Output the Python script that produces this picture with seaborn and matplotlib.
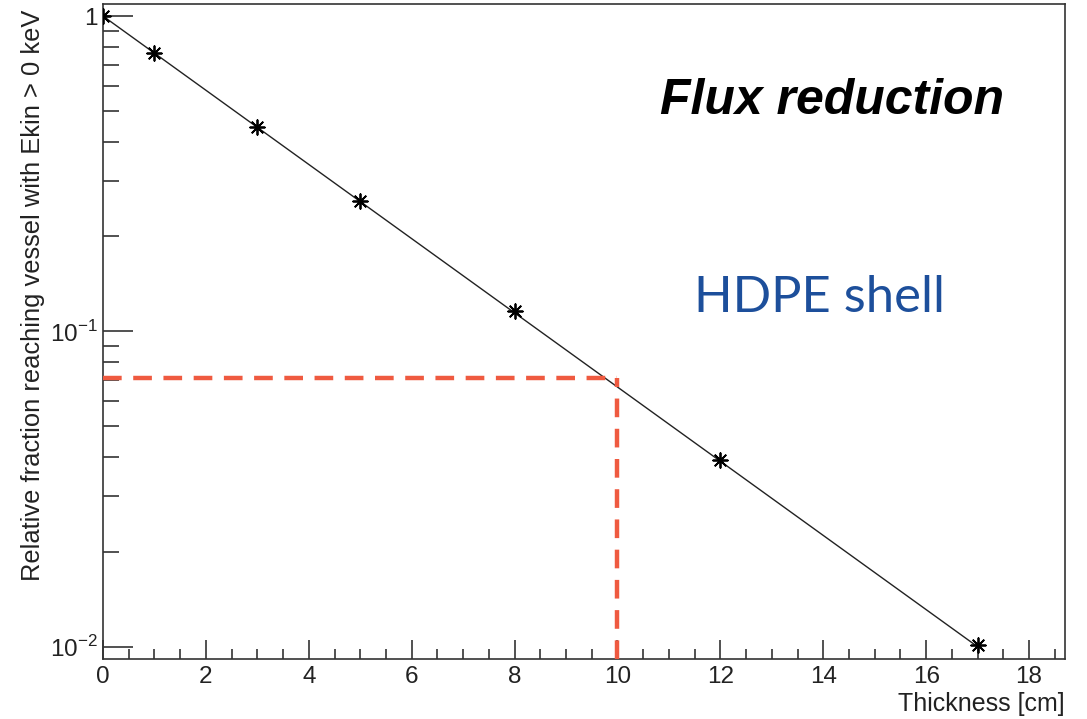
import numpy as np
import matplotlib
matplotlib.use("Agg")
import matplotlib.pyplot as plt
import matplotlib.ticker as mticker
import seaborn as sns

# Data
thickness = [0, 1, 3, 5, 8, 12, 17]
fraction = [1.0, 0.764, 0.445, 0.26, 0.116, 0.039, 0.0101]
fit_x = [0, 17]
fit_y = [1.0, 0.0100]
target_thickness = 10
target_fraction = 0.071

sns.set_style("white")
plt.rcParams['font.family'] = ['Liberation Sans', 'DejaVu Sans']
plt.rcParams['mathtext.fontset'] = 'custom'
plt.rcParams['mathtext.rm'] = 'Liberation Sans'

fig = plt.figure(figsize=(10.87, 7.19), dpi=100)
ax = fig.add_axes([0.0948, 0.0834, 0.8850, 0.9110])

# fit line and points
sns.lineplot(x=fit_x, y=fit_y, ax=ax, color="#222222", linewidth=1.0)
sns.scatterplot(x=thickness, y=fraction, ax=ax, marker=(8, 2, 0), s=110,
                color="black", edgecolor="black", linewidth=1.3, zorder=5)

# red guide lines
red = "#ef5a40"
ax.plot([0, target_thickness], [target_fraction, target_fraction], color=red,
        linewidth=3.2, linestyle=(0, (4.2, 2.6)), zorder=4)
ax.plot([target_thickness, target_thickness], [0.00914, target_fraction], color=red,
        linewidth=3.2, linestyle=(0, (4.2, 2.6)), zorder=4)

ax.set_yscale("log")
ax.set_xlim(0, 18.7)
ax.set_ylim(0.00914, 1.092)

ax.xaxis.set_major_locator(mticker.MultipleLocator(2))
ax.xaxis.set_minor_locator(mticker.MultipleLocator(0.5))
ax.yaxis.set_major_locator(mticker.FixedLocator([0.01, 0.1, 1]))
ax.yaxis.set_major_formatter(mticker.FixedFormatter([r"$10^{-2}$", r"$10^{-1}$", "1"]))
ax.yaxis.set_minor_locator(mticker.LogLocator(base=10, subs=np.arange(2, 10)))
ax.yaxis.set_minor_formatter(mticker.NullFormatter())

ax.tick_params(axis="both", which="both", direction="in", colors="#222222",
               labelsize=17.5, width=1.1, top=False, right=False, bottom=True, left=True)
ax.tick_params(axis="x", which="major", length=13.5, pad=5)
ax.tick_params(axis="x", which="minor", length=7)
ax.tick_params(axis="y", which="major", length=21.5, pad=4)
ax.tick_params(axis="y", which="minor", length=11.5)

for sp in ax.spines.values():
    sp.set_color("#333333")
    sp.set_linewidth(1.2)

ax.set_xlabel("Thickness [cm]", fontsize=18, color="#222222", loc="right")
ax.xaxis.set_label_coords(1.0, -0.051)
fig.text(33 / 1087, 1 - 10 / 719, "Relative fraction reaching vessel with Ekin > 0 keV",
         rotation=90, ha="center", va="top", fontsize=18.4, color="#222222")

ax.text(0.758, 0.832, "Flux reduction", transform=ax.transAxes, ha="center",
        va="baseline", fontsize=36, fontweight="bold", fontstyle="italic", color="black")
ax.text(0.745, 0.530, "HDPE shell", transform=ax.transAxes, ha="center",
        va="baseline", fontsize=36.5, color="#1d4f9b", family=["Lato", "DejaVu Sans"])

fig.savefig("out.png", dpi=100)
